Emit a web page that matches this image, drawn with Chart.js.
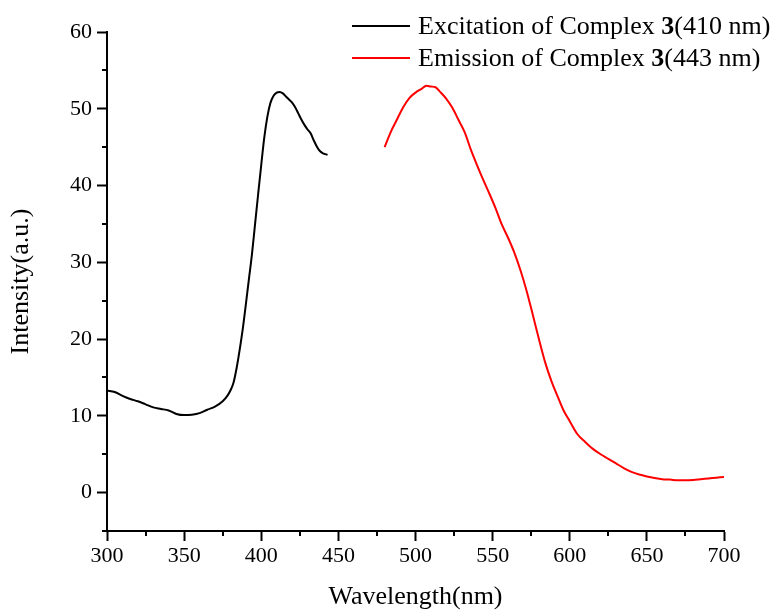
<!DOCTYPE html>
<html>
<head>
<meta charset="utf-8">
<script src="https://cdn.jsdelivr.net/npm/chart.js@4"></script>
<style>
  html, body { margin: 0; padding: 0; background: #fff; }
  #wrap { width: 771px; height: 613px; }
</style>
</head>
<body>
<div id="wrap"><canvas id="chartPL"></canvas></div>
<script>
// excitation spectrum (black)
var excitationNm = [300, 305, 310, 315, 320, 325, 330, 335, 340, 345, 350, 355, 360, 365, 370, 375, 378, 380,
    382, 384, 386, 388, 390, 392, 394, 396, 398, 400, 402, 404, 406, 408, 410, 412, 414, 416, 418, 420,
    422, 424, 426, 428, 430, 432, 434, 436, 438, 440, 443];
var excitationVal = [13.3, 13.1, 12.6, 12.2, 11.9, 11.5, 11.1, 10.9, 10.7, 10.25, 10.1, 10.15, 10.35, 10.8, 11.2, 11.9, 12.6, 13.3,
    14.3, 16.2, 18.6, 21.3, 24.5, 27.8, 31.1, 35.0, 38.9, 42.7, 46.3, 49.0, 50.8, 51.7, 52.1, 52.2, 52.0, 51.6, 51.2, 50.8,
    50.2, 49.4, 48.6, 47.9, 47.3, 46.8, 45.9, 45.1, 44.5, 44.2, 44.0];

// emission spectrum (red)
var emissionNm = [480, 484, 488, 492, 496, 500, 504, 507, 510, 513, 516, 520, 524, 528, 532, 536, 540, 544, 548,
    552, 556, 560, 564, 568, 572, 576, 580, 584, 588, 592, 596, 600, 605, 610, 615, 620, 625, 630, 635, 640,
    645, 650, 655, 660, 665, 670, 675, 680, 685, 690, 695, 700];
var emissionVal = [45.0, 47.0, 48.6, 50.2, 51.4, 52.1, 52.6, 53.0, 52.9, 52.8, 52.2, 51.3, 50.1, 48.5, 46.9, 44.6, 42.6, 40.7, 38.9,
    37.0, 34.9, 33.2, 31.3, 29.0, 26.3, 23.2, 20.0, 17.0, 14.6, 12.6, 10.7, 9.3, 7.6, 6.6, 5.7, 5.0, 4.4, 3.8, 3.2, 2.7,
    2.35, 2.1, 1.9, 1.75, 1.7, 1.6, 1.6, 1.65, 1.75, 1.85, 1.95, 2.05];

var legendParts = [
    ['Excitation of Complex ', '3', '(410 nm)'],
    ['Emission of Complex ', '3', '(443 nm)']
];

var xTicks = [300, 350, 400, 450, 500, 550, 600, 650, 700];
var xMinor = [325, 375, 425, 475, 525, 575, 625, 675];
var yTicks = [0, 10, 20, 30, 40, 50, 60];
var yMinor = [-5, 5, 15, 25, 35, 45, 55];

var serif = "'Liberation Serif', 'Times New Roman', serif";

function toPoints(xs, ys) {
    var pts = [];
    for (var i = 0; i < xs.length; i++) pts.push({x: xs[i], y: ys[i]});
    return pts;
}

// short minor ticks drawn from the scales
var minorTicks = {
    id: 'minorTicks',
    afterDraw: function(chart) {
        var ctx = chart.ctx;
        var xs = chart.scales.x, ys = chart.scales.y;
        ctx.save();
        ctx.strokeStyle = '#000';
        ctx.lineWidth = 2;
        ctx.beginPath();
        xMinor.forEach(function(v) {
            var px = Math.round(xs.getPixelForValue(v));
            ctx.moveTo(px, xs.top);
            ctx.lineTo(px, xs.top + 5);
        });
        yMinor.forEach(function(v) {
            var py = Math.round(ys.getPixelForValue(v));
            ctx.moveTo(ys.right, py);
            ctx.lineTo(ys.right - 5, py);
        });
        ctx.stroke();
        ctx.restore();
    }
};

// legend with the bold complex number
var richLegend = {
    id: 'richLegend',
    afterDraw: function(chart) {
        var ctx = chart.ctx;
        ctx.save();
        ctx.textBaseline = 'middle';
        chart.data.datasets.forEach(function(ds, i) {
            var y = 26 + i * 32;
            ctx.strokeStyle = ds.borderColor;
            ctx.lineWidth = 2;
            ctx.beginPath();
            ctx.moveTo(352, y);
            ctx.lineTo(410, y);
            ctx.stroke();
            var x = 418;
            ctx.fillStyle = '#000';
            legendParts[i].forEach(function(part, j) {
                ctx.font = (j === 1 ? 'bold ' : '') + '26px ' + serif;
                ctx.fillText(part, x, y + 1);
                x += ctx.measureText(part).width;
            });
        });
        ctx.restore();
    }
};

var ctx = document.getElementById('chartPL').getContext('2d');

var chartPL = new Chart(ctx, {
    type: 'line',
    data: {
        datasets: [{
            label: legendParts[0].join(''),
            data: toPoints(excitationNm, excitationVal),
            borderColor: '#000000',
            borderWidth: 2,
            pointRadius: 0,
            cubicInterpolationMode: 'monotone',
            fill: false
        }, {
            label: legendParts[1].join(''),
            data: toPoints(emissionNm, emissionVal),
            borderColor: '#ff0000',
            borderWidth: 2,
            pointRadius: 0,
            cubicInterpolationMode: 'monotone',
            fill: false
        }]
    },
    options: {
        responsive: true,
        maintainAspectRatio: false,
        animation: false,
        layout: {
            padding: {left: 0, right: 47, top: 32, bottom: 0}
        },
        plugins: {
            legend: {display: false},
            tooltip: {enabled: false}
        },
        scales: {
            x: {
                type: 'linear',
                min: 300,
                max: 700,
                afterBuildTicks: function(scale) {
                    scale.ticks = xTicks.map(function(v) { return {value: v}; });
                },
                afterFit: function(scale) { scale.height = 82; },
                grid: {
                    drawOnChartArea: false,
                    drawTicks: true,
                    tickLength: 10,
                    tickWidth: 2,
                    tickColor: '#000'
                },
                border: {display: true, color: '#000', width: 2},
                ticks: {
                    color: '#000',
                    padding: 2,
                    maxRotation: 0,
                    font: {family: serif, size: 22}
                },
                title: {
                    display: true,
                    text: 'Wavelength(nm)',
                    color: '#000',
                    padding: {top: 0, bottom: 0},
                    font: {family: serif, size: 26, lineHeight: 1.2}
                }
            },
            y: {
                type: 'linear',
                min: -5,
                max: 60,
                afterBuildTicks: function(scale) {
                    scale.ticks = yTicks.map(function(v) { return {value: v}; });
                },
                afterFit: function(scale) { scale.width = 107; },
                grid: {
                    drawOnChartArea: false,
                    drawTicks: true,
                    tickLength: 10,
                    tickWidth: 2,
                    tickColor: '#000'
                },
                border: {display: true, color: '#000', width: 2},
                ticks: {
                    color: '#000',
                    padding: 5,
                    font: {family: serif, size: 22}
                },
                title: {
                    display: true,
                    text: 'Intensity(a.u.)',
                    color: '#000',
                    padding: {top: 6, bottom: 0},
                    font: {family: serif, size: 26, lineHeight: 1.2}
                }
            }
        }
    },
    plugins: [minorTicks, richLegend]
});
</script>
</body>
</html>
